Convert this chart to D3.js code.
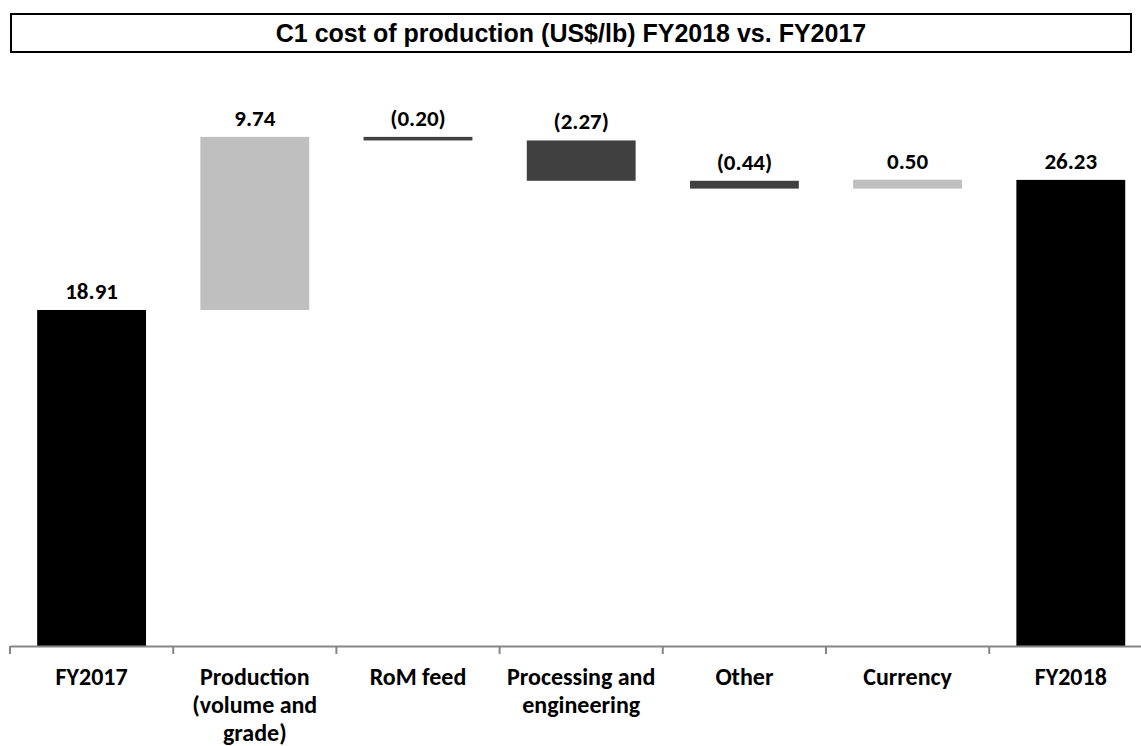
<!DOCTYPE html>
<html><head><meta charset="utf-8">
<script src="https://cdn.jsdelivr.net/npm/d3@7"></script>
<style>body{margin:0;background:#fff}</style>
</head><body>
<svg id="c" width="1141" height="746"></svg>
<script>
const title = "C1 cost of production (US$/lb) FY2018 vs. FY2017";
const categories = ["FY2017", "Production (volume and grade)", "RoM feed", "Processing and engineering", "Other", "Currency", "FY2018"];
const categoryLines = [["FY2017"], ["Production", "(volume and", "grade)"], ["RoM feed"], ["Processing and", "engineering"], ["Other"], ["Currency"], ["FY2018"]];
const values = [18.91, 9.74, -0.20, -2.27, -0.44, 0.50, 26.23];
const kinds = ["total", "delta", "delta", "delta", "delta", "delta", "total"];
const labels = ["18.91", "9.74", "(0.20)", "(2.27)", "(0.44)", "0.50", "26.23"];

const svg = d3.select("#c");
const x = d3.scaleBand().domain(categories).range([10, 1152.4]).paddingInner(0.333).paddingOuter(0.1665);
const y = d3.scaleLinear().domain([0, 30]).range([646, 646 - 30 * 17.77]);

let run = 0;
const bars = values.map((v, i) => {
  let lo, hi;
  if (kinds[i] === "total") { lo = 0; hi = v; run = v; }
  else { const s = run; run = run + v; lo = Math.min(s, run); hi = Math.max(s, run); }
  return {cat: categories[i], v, lo, hi, kind: kinds[i], label: labels[i], i};
});
const color = d => d.kind === "total" ? "#000000" : (d.v >= 0 ? "#bfbfbf" : "#404040");

svg.append("rect").attr("x", 11).attr("y", 14).attr("width", 1120).attr("height", 38)
  .attr("fill", "none").attr("stroke", "#000").attr("stroke-width", 2);
svg.append("text").attr("x", 571).attr("y", 42).attr("text-anchor", "middle")
  .attr("font-family", "Liberation Sans, Arial, sans-serif").attr("font-weight", "bold")
  .attr("font-size", 25).text(title);

svg.selectAll("rect.bar").data(bars).join("rect").attr("class", "bar")
  .attr("x", d => x(d.cat)).attr("width", x.bandwidth())
  .attr("y", d => y(d.hi)).attr("height", d => y(d.lo) - y(d.hi))
  .attr("fill", color);

svg.selectAll("text.val").data(bars).join("text").attr("class", "val")
  .attr("x", d => x(d.cat) + x.bandwidth() / 2).attr("y", d => y(d.hi) - 11)
  .attr("text-anchor", "middle").attr("font-family", "Carlito, Lato, sans-serif")
  .attr("font-weight", "bold").attr("font-size", 23).attr("fill", "#000").text(d => d.label);

const axis = svg.append("g").attr("transform", "translate(0,646)")
  .call(d3.axisBottom(x).tickSize(0).tickFormat(""));
axis.select(".domain").attr("stroke", "#868686").attr("stroke-width", 2);
const step = x.step();
svg.selectAll("line.tk").data(d3.range(categories.length + 1)).join("line").attr("class", "tk")
  .attr("x1", i => 10 + i * step).attr("x2", i => 10 + i * step)
  .attr("y1", 646).attr("y2", 654).attr("stroke", "#868686").attr("stroke-width", 2);

const catG = svg.selectAll("text.cat").data(categoryLines).join("text").attr("class", "cat")
  .attr("text-anchor", "middle").attr("font-family", "Carlito, Lato, sans-serif")
  .attr("font-weight", "bold").attr("font-size", 24).attr("fill", "#000");
catG.each(function(lines, i) {
  const t = d3.select(this);
  const cx = x(categories[i]) + x.bandwidth() / 2;
  lines.forEach((ln, j) => t.append("tspan").attr("x", cx).attr("y", 685 + j * 28).text(ln));
});
</script>
</body></html>
